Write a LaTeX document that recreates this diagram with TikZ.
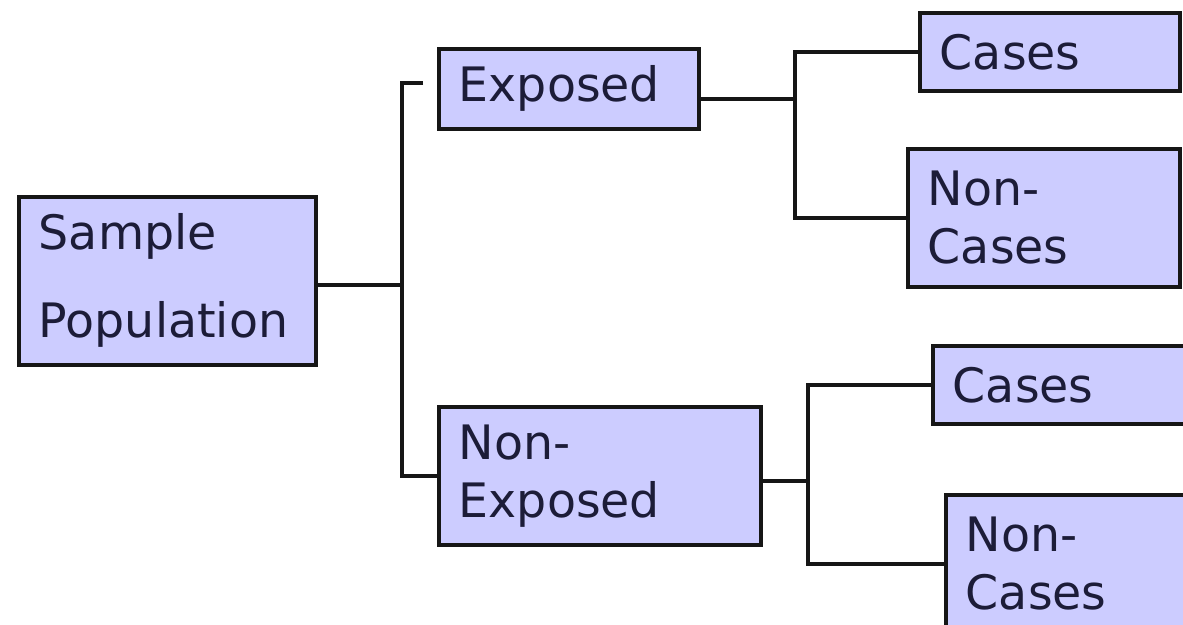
\documentclass[tikz,border=0pt]{standalone}
\usepackage{fontspec}
\setmainfont{DejaVu Sans}
\usepackage{xcolor}
\usepackage{tikz}
\usetikzlibrary{positioning,calc}
\definecolor{boxfill}{HTML}{CCCCFF}
\definecolor{boxline}{HTML}{161616}
\definecolor{ink}{HTML}{1C1C38}
\tikzset{
  box/.style ={draw=boxline,line width=2.1pt,fill=boxfill,anchor=north west,
               inner xsep=0.4cm,inner ysep=0pt,align=left,text=ink,
               font=\fontsize{27}{33}\selectfont},
  link/.style={draw=boxline,line width=2.1pt}
}

\begin{document}
\begin{tikzpicture}
        \path[use as bounding box,clip] (0,0) rectangle (23.66,-12.5);
        % tree of groups
        \node[box,text width=5.14cm,minimum height=3.36cm] (sample) at (0.34,-3.90)
          {Sample\\[0.6cm]Population};
        \node[box,text width=4.40cm,minimum height=1.60cm] (exposed) at (8.74,-0.94)
          {Exposed};
        \node[box,text width=5.64cm,minimum height=2.76cm] (nonexp) at (8.74,-8.10)
          {Non-\\Exposed};
        \node[box,text width=4.40cm,minimum height=1.56cm] (casesE) at (18.36,-0.22)
          {Cases};
        \node[box,text width=4.64cm,minimum height=2.76cm] (noncasesE) at (18.12,-2.94)
          {Non-\\Cases};
        \node[box,text width=4.60cm,minimum height=1.56cm] (casesN) at (18.62,-6.88)
          {Cases};
        \node[box,text width=4.40cm,minimum height=2.76cm] (noncasesN) at (18.88,-9.86)
          {Non-\\Cases};
        % forks
        \coordinate (trunk) at (8.04,0);
        \coordinate (forkE) at (15.90,0);
        \coordinate (forkN) at (16.16,0);
        \coordinate (stub) at (8.46,-1.66);
        \coordinate (outS) at ([yshift=-0.08cm]sample.east);
        \coordinate (outE) at ([yshift=-0.2cm]exposed.east);
        \coordinate (outN) at ([yshift=-0.1cm]nonexp.east);
        \draw[link] (outS) -- (trunk |- outS);
        \draw[link] (stub) -- (trunk |- stub) |- (nonexp.west);
        \draw[link] (outE) -- (forkE |- outE);
        \draw[link] (casesE.west) -- (forkE |- casesE.west) |- (noncasesE.west);
        \draw[link] (outN) -- (forkN |- outN);
        \draw[link] (casesN.west) -- (forkN |- casesN.west) |- (noncasesN.west);
      \end{tikzpicture}
\end{document}
